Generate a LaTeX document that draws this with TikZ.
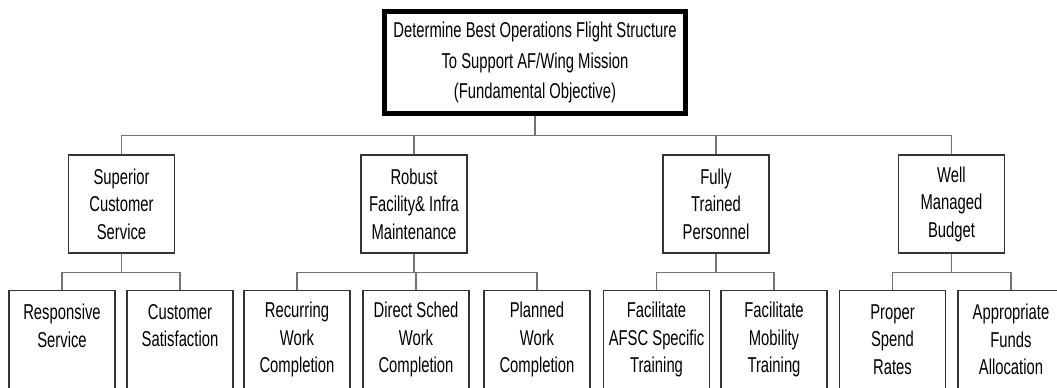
\documentclass[tikz,border=0pt]{standalone}
\usepackage{fontspec}
\setmainfont{Liberation Sans}[FakeStretch=0.69]
\usepackage{tikz}
\usetikzlibrary{positioning}

\begin{document}
\begin{tikzpicture}[x=0.75pt,y=-0.75pt,
    objbox/.style={draw=black!80,line width=0.8pt,align=center,inner sep=1pt,
        minimum width=79.5pt,minimum height=73.5pt,text=black,
        font=\fontsize{16.1}{20.6}\selectfont},
    rootbox/.style={draw=black,line width=3.6pt,align=center,inner sep=1pt,
        minimum width=226pt,minimum height=76.5pt,text=black,
        font=\fontsize{16.1}{22.6}\selectfont},
    link/.style={draw=black!55,line width=0.8pt}]
    \path[use as bounding box,clip] (0,0) rectangle (1057,388);

    % fundamental objective
    \node[rootbox] (root) at (535,62.5) {Determine Best Operations Flight Structure\\To Support AF/Wing Mission\\(Fundamental Objective)};

    % objectives
    \node[objbox] (cust) at (121.5,204) {Superior\\Customer\\Service};
    \node[objbox] (facil) at (414,204) {Robust\\Facility\& Infra\\Maintenance};
    \node[objbox] (train) at (716,204) {Fully\\Trained\\Personnel};
    \node[objbox] (budget) at (951.5,204) {Well\\Managed\\Budget};

    % sub-objectives
    \node[objbox] (resp) at (62,339.5) {Responsive\\Service\\~};
    \node[objbox] (csat) at (180,339.5) {Customer\\Satisfaction\\~};
    \node[objbox] (recur) at (297,339.5) {Recurring\\Work\\Completion};
    \node[objbox] (direct) at (416,339.5) {Direct Sched\\Work\\Completion};
    \node[objbox] (plan) at (537,339.5) {Planned\\Work\\Completion};
    \node[objbox] (afsc) at (656.5,339.5) {Facilitate\\AFSC Specific\\Training};
    \node[objbox] (mobil) at (774,339.5) {Facilitate\\Mobility\\Training};
    \node[objbox] (spend) at (892.5,339.5) {Proper\\Spend\\Rates};
    \node[objbox] (funds) at (1011,339.5) {Appropriate\\Funds\\Allocation};

    % connectors
    \foreach \kid in {cust,facil,train,budget}
        \draw[link] (root.south) -- ++(0,20) -| (\kid.north);
    \foreach \kid in {resp,csat}
        \draw[link] (cust.south) -- ++(0,19) -| (\kid.north);
    \foreach \kid in {recur,direct,plan}
        \draw[link] (facil.south) -- ++(0,19) -| (\kid.north);
    \foreach \kid in {afsc,mobil}
        \draw[link] (train.south) -- ++(0,19) -| (\kid.north);
    \foreach \kid in {spend,funds}
        \draw[link] (budget.south) -- ++(0,19) -| (\kid.north);
\end{tikzpicture}
\end{document}
